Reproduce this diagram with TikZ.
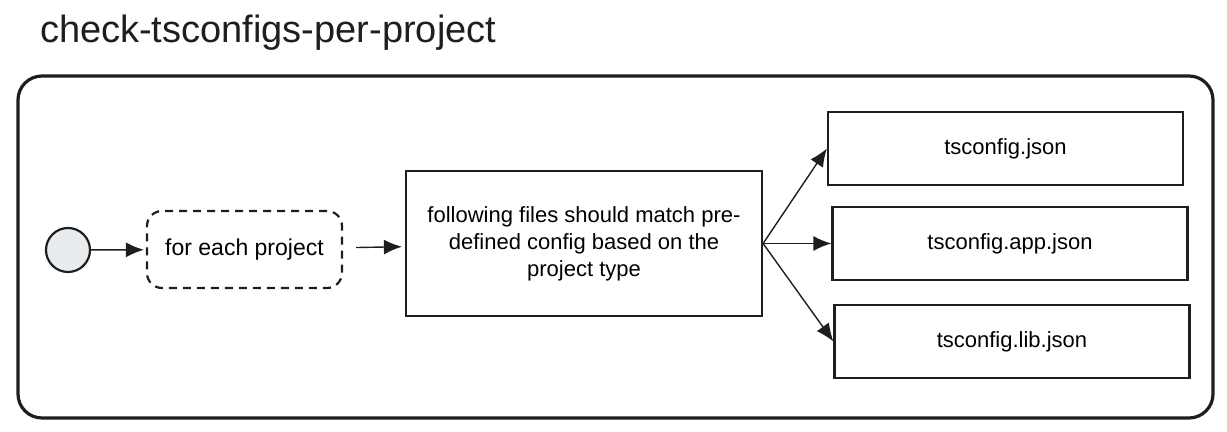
\documentclass[tikz,border=0pt]{standalone}
\usepackage{fontspec}
\setmainfont{Liberation Sans}
\usetikzlibrary{arrows.meta}

\definecolor{startgray}{HTML}{E9ECEF}
\definecolor{ink}{HTML}{1E1E1E}

\tikzset{
  filebox/.style={draw=ink, line width=1.1pt, minimum width=177.5pt, minimum height=36.5pt, font=\fontsize{11}{13}\selectfont},
  flow/.style={-{Latex[length=9pt,width=7.5pt]}, draw=ink, line width=0.7pt}
}

\begin{document}
\begin{tikzpicture}[x=0.5pt, y=-0.5pt]
\useasboundingbox (0,0) rectangle (1227,432);
% Titulo
\node[anchor=west, font=\fontsize{19}{22}\selectfont, text=ink] (title) at (33,33) {check-tsconfigs-per-project};
% Marco exterior
\draw[ink, line width=1.6pt, rounded corners=12pt] (18,76) rectangle (1213,418);
% Inicio
\node[circle, draw=ink, fill=startgray, line width=1.1pt, minimum size=22pt, inner sep=0pt] (start) at (68,250) {};
% Bucle por proyecto
\node[draw=ink, dash pattern=on 4pt off 3pt, line width=1.1pt, rounded corners=7.5pt, minimum width=97.5pt, minimum height=38.5pt, font=\fontsize{11.5}{13}\selectfont] (loop) at (244.5,249.5) {for each project};
% Caja principal
\node[draw=ink, line width=1.1pt, minimum width=178pt, minimum height=72.5pt, align=center, font=\fontsize{11}{13.5}\selectfont] (check) at (584,243.5) {following files should match pre-\\defined config based on the\\project type};
% Ficheros
\node[filebox] (base) at (1005.5,148.5) {tsconfig.json};
\node[filebox] (app) at (1010,243.5) {tsconfig.app.json};
\node[filebox] (lib) at (1012,341.5) {tsconfig.lib.json};
% Flechas
\draw[flow, shorten >=1pt] (start) -- (loop);
\draw[flow, shorten <=6.5pt, shorten >=1.5pt] (loop) -- (check);
\draw[flow] (check.east) -- (base.west);
\draw[flow] (check.east) -- (app.west);
\draw[flow] (check.east) -- (lib.west);
\end{tikzpicture}
\end{document}
